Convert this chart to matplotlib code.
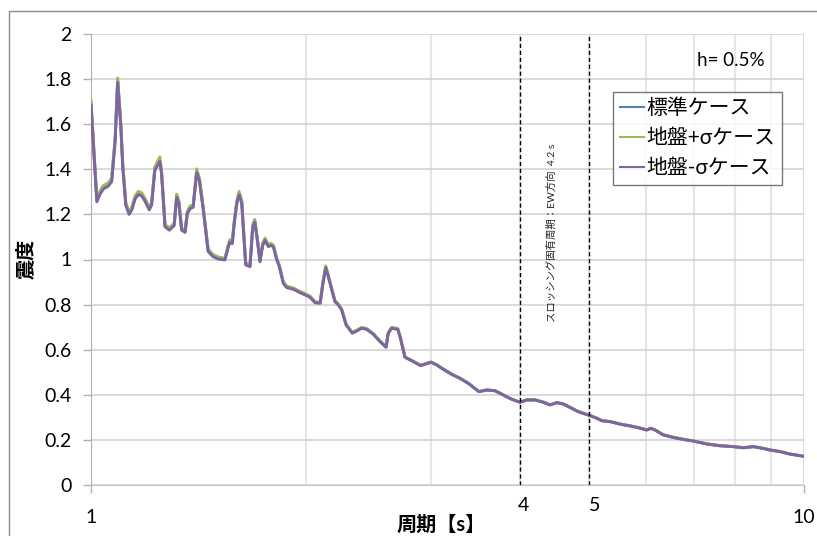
import numpy as np
import matplotlib
matplotlib.use('Agg')
import matplotlib.pyplot as plt
from matplotlib.patches import Rectangle
from matplotlib.ticker import FixedLocator, NullFormatter

plt.rcParams['font.family'] = ['Lato', 'Noto Sans CJK JP', 'DejaVu Sans']

# period [s]
period = [1.000, 1.019, 1.030, 1.040, 1.057, 1.069, 1.081, 1.090, 1.101, 1.108,
          1.119, 1.131, 1.141, 1.153, 1.165, 1.178, 1.191, 1.207, 1.216, 1.229,
          1.239, 1.249, 1.256, 1.270, 1.288, 1.308, 1.319, 1.328, 1.340, 1.355,
          1.365, 1.377, 1.391, 1.407, 1.419, 1.437, 1.460, 1.484, 1.508, 1.541,
          1.558, 1.566, 1.578, 1.588, 1.601, 1.613, 1.627, 1.648, 1.671, 1.686,
          1.697, 1.711, 1.726, 1.741, 1.754, 1.773, 1.787, 1.802, 1.822, 1.837,
          1.861, 1.882, 1.922, 1.964, 1.996, 2.029, 2.062, 2.096, 2.114, 2.134,
          2.152, 2.176, 2.199, 2.223, 2.247, 2.279, 2.325, 2.359, 2.397, 2.436,
          2.489, 2.543, 2.593, 2.612, 2.641, 2.693, 2.713, 2.757, 2.817, 2.900,
          2.950, 2.998, 3.054, 3.119, 3.205, 3.292, 3.381, 3.501, 3.589, 3.686,
          3.787, 3.891, 3.997, 4.084, 4.195, 4.309, 4.404, 4.500, 4.597, 4.697,
          4.826, 4.985, 5.122, 5.205, 5.346, 5.521, 5.702, 5.857, 6.018, 6.096,
          6.180, 6.348, 6.556, 6.771, 6.993, 7.302, 7.622, 7.960, 8.222, 8.492,
          8.771, 8.963, 9.258, 9.558, 10.00]

# 地盤-σケース
case_minus = [1.685, 1.256, 1.290, 1.312, 1.325, 1.345, 1.520, 1.785, 1.590, 1.410,
              1.240, 1.200, 1.220, 1.268, 1.288, 1.282, 1.258, 1.220, 1.240, 1.395,
              1.415, 1.435, 1.378, 1.145, 1.130, 1.150, 1.275, 1.250, 1.130, 1.120,
              1.203, 1.225, 1.232, 1.385, 1.350, 1.220, 1.035, 1.012, 1.002, 0.998,
              1.055, 1.077, 1.070, 1.158, 1.245, 1.287, 1.250, 0.976, 0.968, 1.142,
              1.166, 1.087, 0.990, 1.062, 1.085, 1.057, 1.063, 1.056, 0.998, 0.968,
              0.894, 0.875, 0.868, 0.853, 0.843, 0.832, 0.808, 0.806, 0.890, 0.963,
              0.924, 0.865, 0.813, 0.798, 0.776, 0.710, 0.673, 0.683, 0.695, 0.690,
              0.668, 0.636, 0.611, 0.673, 0.695, 0.690, 0.658, 0.566, 0.551, 0.529,
              0.537, 0.544, 0.532, 0.513, 0.491, 0.473, 0.451, 0.414, 0.421, 0.418,
              0.399, 0.380, 0.367, 0.377, 0.377, 0.367, 0.355, 0.365, 0.359, 0.344,
              0.325, 0.310, 0.296, 0.285, 0.281, 0.270, 0.262, 0.254, 0.244, 0.251,
              0.244, 0.222, 0.211, 0.202, 0.195, 0.182, 0.174, 0.170, 0.165, 0.170,
              0.162, 0.155, 0.148, 0.137, 0.127]

# 地盤+σケース
case_plus = [1.705, 1.270, 1.305, 1.327, 1.340, 1.360, 1.540, 1.805, 1.605, 1.425,
             1.252, 1.210, 1.232, 1.282, 1.302, 1.296, 1.270, 1.232, 1.252, 1.412,
             1.432, 1.455, 1.392, 1.155, 1.140, 1.160, 1.290, 1.262, 1.140, 1.130,
             1.215, 1.237, 1.244, 1.402, 1.362, 1.232, 1.045, 1.022, 1.011, 1.006,
             1.066, 1.088, 1.081, 1.170, 1.260, 1.302, 1.262, 0.985, 0.976, 1.155,
             1.178, 1.096, 0.998, 1.072, 1.095, 1.066, 1.072, 1.065, 1.006, 0.976,
             0.901, 0.882, 0.874, 0.859, 0.849, 0.838, 0.813, 0.811, 0.897, 0.972,
             0.931, 0.871, 0.818, 0.803, 0.780, 0.714, 0.677, 0.687, 0.699, 0.694,
             0.672, 0.639, 0.614, 0.677, 0.699, 0.694, 0.661, 0.568, 0.553, 0.531,
             0.539, 0.546, 0.534, 0.515, 0.492, 0.474, 0.452, 0.415, 0.422, 0.419,
             0.400, 0.381, 0.368, 0.378, 0.378, 0.368, 0.356, 0.366, 0.360, 0.345,
             0.326, 0.311, 0.297, 0.286, 0.282, 0.271, 0.263, 0.255, 0.245, 0.252,
             0.245, 0.223, 0.212, 0.203, 0.196, 0.183, 0.175, 0.171, 0.166, 0.171,
             0.163, 0.156, 0.149, 0.138, 0.128]

# 標準ケース
case_std = [1.695, 1.263, 1.297, 1.320, 1.333, 1.352, 1.530, 1.795, 1.598, 1.418,
            1.246, 1.205, 1.226, 1.275, 1.295, 1.289, 1.264, 1.226, 1.246, 1.404,
            1.424, 1.445, 1.385, 1.150, 1.135, 1.155, 1.282, 1.256, 1.135, 1.125,
            1.209, 1.231, 1.238, 1.394, 1.356, 1.226, 1.040, 1.017, 1.006, 1.002,
            1.060, 1.082, 1.075, 1.164, 1.252, 1.294, 1.256, 0.980, 0.972, 1.148,
            1.172, 1.091, 0.994, 1.067, 1.090, 1.061, 1.067, 1.060, 1.002, 0.972,
            0.897, 0.878, 0.871, 0.856, 0.846, 0.835, 0.810, 0.808, 0.893, 0.967,
            0.927, 0.868, 0.815, 0.800, 0.778, 0.712, 0.675, 0.685, 0.697, 0.692,
            0.670, 0.637, 0.612, 0.675, 0.697, 0.692, 0.659, 0.567, 0.552, 0.530,
            0.538, 0.545, 0.533, 0.514, 0.491, 0.473, 0.451, 0.414, 0.421, 0.418,
            0.399, 0.380, 0.367, 0.377, 0.377, 0.367, 0.355, 0.365, 0.359, 0.344,
            0.325, 0.310, 0.296, 0.285, 0.281, 0.270, 0.262, 0.254, 0.244, 0.251,
            0.244, 0.222, 0.211, 0.202, 0.195, 0.182, 0.174, 0.170, 0.165, 0.170,
            0.162, 0.155, 0.148, 0.137, 0.127]

labels = ['標準ケース', '地盤+σケース', '地盤-σケース']
colors = ['#4F81BD', '#9BBB59', '#8064A2']
yticks = [0, 0.2, 0.4, 0.6, 0.8, 1.0, 1.2, 1.4, 1.6, 1.8, 2.0]
ytick_labels = ['0', '0.2', '0.4', '0.6', '0.8', '1', '1.2', '1.4', '1.6', '1.8', '2']
marker_periods = [4, 5]
slosh_text = 'スロッシング固有周期：EW方向  4.2 s'

fig = plt.figure(figsize=(8.17, 5.36), dpi=100)
ax = fig.add_axes([91/817, 1 - 485/536, (804 - 91)/817, (485 - 34)/536])

# outer chart border (only top and left edges fall inside the picture)
fig.patches.append(Rectangle((9/817, -0.2), 1.2, 1.2 - 11/536,
                             transform=fig.transFigure, fill=False,
                             edgecolor='#8c8c8c', lw=1.0))

for vals, lab, c in zip([case_std, case_plus, case_minus], labels, colors):
    ax.plot(period, vals, color=c, lw=2.1, label=lab, zorder=3,
            solid_joinstyle='round')

ax.set_xscale('log')
ax.set_xlim(1, 10)
ax.set_ylim(0, 2)
ax.set_yticks(yticks)
ax.set_yticklabels(ytick_labels)
ax.xaxis.set_major_locator(FixedLocator([1, 10]))
ax.xaxis.set_minor_locator(FixedLocator([2, 3, 4, 5, 6, 7, 8, 9]))
ax.xaxis.set_minor_formatter(NullFormatter())
ax.set_xticklabels(['1', '10'])

ax.grid(True, axis='y', which='major', color='#d4d4d4', lw=1.2)
ax.grid(True, axis='x', which='major', color='#d4d4d4', lw=1.2)
ax.grid(True, axis='x', which='minor', color='#e6e6e6', lw=1.5)
ax.set_axisbelow(True)

for s in ['top', 'right']:
    ax.spines[s].set_visible(False)
ax.spines['left'].set_color('#b0b0b0')
ax.spines['bottom'].set_color('#c8c8c8')
ax.tick_params(axis='both', which='major', labelsize=14, color='#b0b0b0',
               length=6, width=1)
ax.tick_params(axis='x', which='major', pad=11)
ax.tick_params(axis='y', which='major', pad=8)
ax.tick_params(axis='x', which='minor', length=0)

for p, dx in zip(marker_periods, [2, 4]):
    ax.axvline(p, color='black', lw=1.0, ls=(0, (3, 2)), zorder=4)
    ax.annotate(str(p), xy=(p, 0), xycoords=('data', 'axes fraction'),
                xytext=(dx, -15), textcoords='offset points',
                ha='center', va='center', fontsize=14)

fig.text(552/817, 1 - 233/536, slosh_text, rotation=90, ha='center',
         va='center', fontsize=7.5, color='#222222')

fig.text(731/817, 1 - 60/536, 'h= 0.5%', ha='center', va='center', fontsize=13.5)

leg = ax.legend(loc='upper left', bbox_to_anchor=(0.732, 0.872), fontsize=15,
                frameon=True, fancybox=False, borderaxespad=0, handlelength=1.15,
                handletextpad=0.15, labelspacing=0.48, borderpad=0.32)
leg.get_frame().set_edgecolor('#555555')
leg.get_frame().set_linewidth(1.0)
for h in leg.get_lines():
    h.set_linewidth(1.5)

fig.text(441/817, 1 - 525/536, '周期【s】', ha='center', va='center',
         fontsize=14.5, fontweight='bold')
fig.text(26/817, 1 - 259/536, '震度', ha='center', va='center', rotation=90,
         fontsize=14.5, fontweight='bold')

fig.savefig('out.png', dpi=100)
